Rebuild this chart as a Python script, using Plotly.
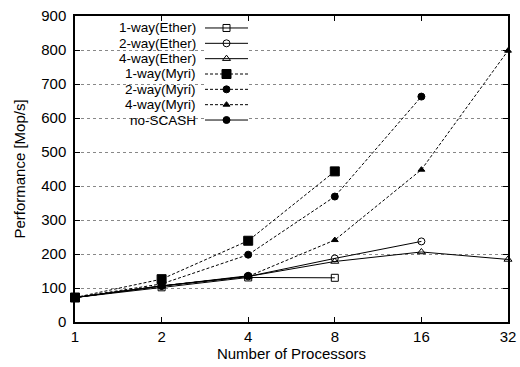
import plotly.graph_objects as go

procs = [1, 2, 4, 8, 16, 32]
tick_labels = ["1", "2", "4", "8", "16", "32"]

ether1 = [72, 102, 131, 130]
ether2 = [72, 106, 134, 187, 237]
ether4 = [72, 106, 134, 178, 206, 184]
myri1 = [72, 126, 239, 443]
myri2 = [72, 112, 198, 369, 663]
myri4 = [72, 106, 134, 241, 448, 798]
noscash = [72, 106, 136]

series = [
    ("1-way(Ether)", ether1, "solid", "square-open", 7),
    ("2-way(Ether)", ether2, "solid", "circle-open", 7),
    ("4-way(Ether)", ether4, "solid", "triangle-up-open", 7),
    ("1-way(Myri)", myri1, "dash", "square", 9),
    ("2-way(Myri)", myri2, "dash", "circle", 7),
    ("4-way(Myri)", myri4, "dash", "triangle-up", 6),
    ("no-SCASH", noscash, "solid", "circle", 7),
]

FONT = "Liberation Sans, Arial, sans-serif"
FS = 15
LFS = 13.5
fig = go.Figure()

for name, vals, dash, sym, size in series:
    fig.add_trace(go.Scatter(
        x=procs[:len(vals)], y=vals, mode="lines+markers", name=name,
        line=dict(color="black", width=1, dash=dash if dash == "solid" else "3px,2px"),
        marker=dict(symbol=sym, size=size, color="black", line=dict(color="black", width=1)),
        showlegend=False, cliponaxis=False,
    ))

# custom legend (text left, sample right) on overlay axes
n = len(series)
for i, (name, vals, dash, sym, size) in enumerate(series):
    yy = i
    fig.add_trace(go.Scatter(
        x=[0, 1], y=[yy, yy], mode="lines", xaxis="x2", yaxis="y2",
        line=dict(color="black", width=1, dash=dash if dash == "solid" else "3px,2px"),
        showlegend=False, hoverinfo="skip",
    ))
    fig.add_trace(go.Scatter(
        x=[0.5], y=[yy], mode="markers", xaxis="x2", yaxis="y2",
        marker=dict(symbol=sym, size=size, color="black", line=dict(color="black", width=1)),
        showlegend=False, hoverinfo="skip",
    ))
    fig.add_annotation(
        x=0, y=yy, xref="x2", yref="y2", text=name, showarrow=False,
        xanchor="right", xshift=-7, yanchor="middle",
        font=dict(family=FONT, size=LFS, color="black"),
    )

W, H = 520, 367
ml, mt = 75, 16
mr = W - 508
mb = H - 322
pw, ph = W - ml - mr, H - mt - mb

def px_x(page_x):
    return (page_x - ml) / pw

def px_y(page_y):
    return 1 - (page_y - mt) / ph

# legend box covering gridlines
fig.add_shape(type="rect", xref="paper", yref="paper",
              x0=px_x(76), x1=px_x(255), y0=px_y(128), y1=px_y(17),
              fillcolor="white", line=dict(width=0), layer="below")

fig.update_layout(
    width=W, height=H,
    margin=dict(l=ml, r=mr, t=mt, b=mb, autoexpand=False),
    paper_bgcolor="white", plot_bgcolor="white",
    font=dict(family=FONT, size=FS, color="black"),
    xaxis=dict(
        type="log", range=[0, 1.50515], tickvals=procs, ticktext=tick_labels,
        ticks="inside", ticklen=5, tickcolor="black", mirror="ticks",
        showline=True, linecolor="black", linewidth=1.5, showgrid=False, zeroline=False,
        title=dict(text="Number of Processors", font=dict(size=FS), standoff=3),
        tickfont=dict(size=FS), ticklabelstandoff=0, automargin=False,
        ticklabeloverflow="allow",
    ),
    yaxis=dict(
        range=[0, 900], tickvals=list(range(0, 901, 100)),
        ticks="inside", ticklen=5, tickcolor="black", mirror="ticks",
        showline=True, linecolor="black", linewidth=1.5,
        showgrid=True, gridcolor="#888888", griddash="dot", gridwidth=1, zeroline=False,
        title=dict(text="Performance [Mop/s]", font=dict(size=FS), standoff=12),
        tickfont=dict(size=FS), ticklabelstandoff=4, automargin=False,
        ticklabeloverflow="allow",
    ),
    xaxis2=dict(
        domain=[px_x(205), px_x(248)], range=[0, 1], anchor="y2",
        visible=False, fixedrange=True,
    ),
    yaxis2=dict(
        domain=[px_y(128), px_y(20)], range=[n - 1 + 0.52, -0.52],
        anchor="x2", visible=False, fixedrange=True,
    ),
)

fig.write_html(
    "out.html",
    config={"displayModeBar": False},
    post_script="document.body.style.margin='0';document.body.style.overflow='hidden';",
)
